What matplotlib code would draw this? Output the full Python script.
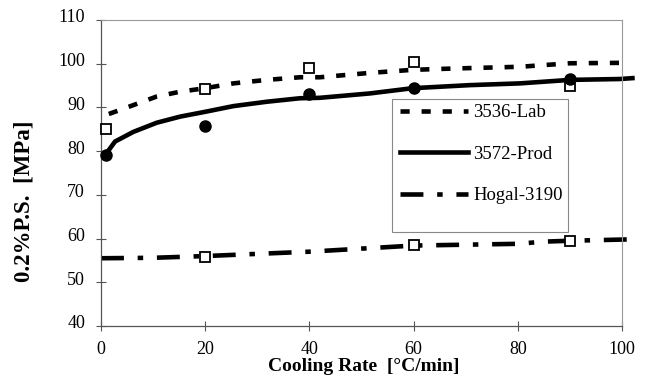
import matplotlib.pyplot as plt
from matplotlib.patches import Rectangle
import matplotlib.transforms as mtransforms

plt.rcParams['font.family'] = ['Liberation Serif', 'DejaVu Serif']

# fitted curves
lab_x = [1.5, 5, 10.7, 15.2, 20, 25.4, 31.8, 38.2, 42, 51.6, 59.8, 67.6, 80.4, 90, 100]
lab_y = [88.5, 90.0, 92.5, 93.6, 94.4, 95.5, 96.3, 96.9, 96.9, 97.9, 98.6, 98.9, 99.3, 100.1, 100.2]

prod_x = [1.1, 2.7, 6.2, 10.7, 15.2, 20, 25.4, 31.8, 38.2, 42, 51.6, 59.8, 70.8, 80.4, 90, 99.6, 102]
prod_y = [79.6, 82.2, 84.4, 86.5, 87.9, 89.0, 90.3, 91.3, 92.1, 92.2, 93.2, 94.4, 95.1, 95.5, 96.3, 96.5, 96.7]

hogal_x = [0, 10, 20, 30, 40, 50, 60, 70, 80, 85, 90, 101]
hogal_y = [55.5, 55.6, 56.0, 56.5, 57.0, 57.7, 58.4, 58.6, 58.8, 59.3, 59.5, 59.8]

# measured points
lab_pts_x = [1, 20, 40, 60, 90]
lab_pts_y = [85.1, 94.2, 99.0, 100.5, 95.0]
prod_pts_x = [1, 20, 40, 60, 90]
prod_pts_y = [79.1, 85.8, 93.1, 94.4, 96.4]
hogal_pts_x = [20, 60, 90]
hogal_pts_y = [55.8, 58.5, 59.5]

fig = plt.figure(figsize=(6.49, 3.87), dpi=100)
ax = fig.add_axes([101/649, 1-326/387, 521/649, 306/387])

l1, = ax.plot(lab_x, lab_y, color='black', lw=3.3, dashes=(2, 2.6),
              dash_capstyle='butt', label='3536-Lab')
l2, = ax.plot(prod_x, prod_y, color='black', lw=3.3, label='3572-Prod', clip_on=False)
l3, = ax.plot(hogal_x, hogal_y, color='black', lw=3.3, dashes=(5, 3, 1.2, 3),
              dash_capstyle='butt', label='Hogal-3190', clip_on=False)

ax.plot(lab_pts_x, lab_pts_y, 's', ms=7.5, mfc='white', mec='black', mew=1.3, zorder=8, clip_on=False)
ax.plot(hogal_pts_x, hogal_pts_y, 's', ms=7.5, mfc='white', mec='black', mew=1.3, zorder=8)
ax.plot(prod_pts_x, prod_pts_y, 'o', ms=8, color='black', zorder=9, clip_on=False)

ax.set_xlim(0, 100)
ax.set_ylim(40, 110)
ax.set_xticks([0, 20, 40, 60, 80, 100])
ax.set_yticks([40, 50, 60, 70, 80, 90, 100, 110])

for side in ['left', 'bottom']:
    ax.spines[side].set_color('#555555')
    ax.spines[side].set_linewidth(0.9)
for side in ['top', 'right']:
    ax.spines[side].set_color('#999999')
    ax.spines[side].set_linewidth(0.8)

ax.tick_params(direction='inout', length=7, width=0.8, color='#555555', labelsize=13)
ax.tick_params(axis='y', pad=8)
ax.tick_params(axis='x', pad=7)

# y tick labels sit a little above their ticks
shift = mtransforms.ScaledTranslation(0, 4/100, fig.dpi_scale_trans)
for lab in ax.get_yticklabels():
    lab.set_transform(lab.get_transform() + shift)

ax.set_xlabel('Cooling Rate  [°C/min]', fontsize=14, fontweight='bold')
ax.set_ylabel('0.2%P.S.  [MPa]', fontsize=16.5, fontweight='bold')
ax.xaxis.set_label_coords(0.504, -0.105)
ax.yaxis.set_label_coords(-0.127, 0.408)

# legend box
ax.add_patch(Rectangle(((392-101)/521, (326-232)/306), (568-392)/521, (232-99)/306,
                       transform=ax.transAxes, facecolor='white', edgecolor='#888888',
                       lw=0.8, zorder=6))
leg = ax.legend(handles=[l1, l2, l3], loc='upper left', bbox_to_anchor=((400-101)/521, (326-104)/306),
                frameon=False, fontsize=13.5, borderpad=0, borderaxespad=0,
                handlelength=3.6, handletextpad=0.3, labelspacing=1.3)
leg.set_zorder(7)

fig.savefig('out.png', dpi=100)
